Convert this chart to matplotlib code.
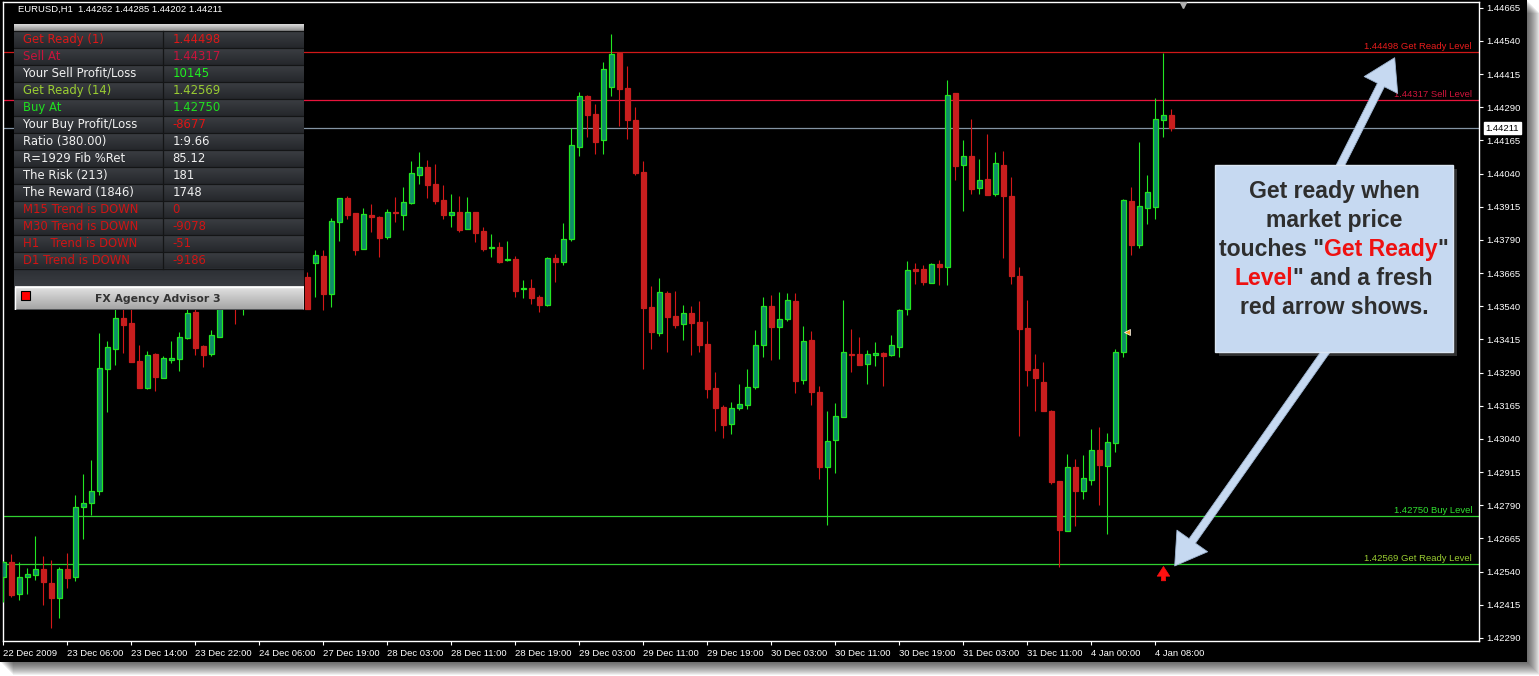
import numpy as np
import matplotlib
matplotlib.use('Agg')
import matplotlib.pyplot as plt
import matplotlib.transforms as mtransforms
from matplotlib.patches import Rectangle
from matplotlib.colors import LinearSegmentedColormap

plt.rcParams['font.family'] = ['Liberation Sans', 'DejaVu Sans']

W, H = 1539, 676

# EURUSD H1 bars
opens = [1.42520, 1.42576, 1.42456, 1.42520, 1.42527, 1.42550, 1.42497, 1.42441, 1.42550, 1.42520,
         1.42784, 1.42799, 1.42844, 1.43304, 1.43379, 1.43496, 1.43477, 1.43334, 1.43232, 1.43360,
         1.43270, 1.43338, 1.43342, 1.43421, 1.43519, 1.43391, 1.43360, 1.43425, 1.43583, 1.43639,
         1.43545, 1.43602, 1.43658, 1.43621, 1.43579, 1.43632, 1.43685, 1.43632, 1.43651, 1.43704,
         1.43730, 1.43587, 1.43858, 1.43949, 1.43892, 1.43756, 1.43884, 1.43877, 1.43802, 1.43896,
         1.43884, 1.43930, 1.44035, 1.44065, 1.44001, 1.43941, 1.43884, 1.43896, 1.43832, 1.43896,
         1.43824, 1.43760, 1.43764, 1.43715, 1.43719, 1.43606, 1.43609, 1.43575, 1.43545, 1.43722,
         1.43707, 1.43794, 1.44141, 1.44333, 1.44265, 1.44167, 1.44367, 1.44495, 1.44363, 1.44243,
         1.44047, 1.43538, 1.43440, 1.43590, 1.43504, 1.43474, 1.43515, 1.43481, 1.43398, 1.43232,
         1.43161, 1.43097, 1.43157, 1.43168, 1.43236, 1.43394, 1.43541, 1.43462, 1.43492, 1.43560,
         1.43262, 1.43413, 1.43217, 1.42934, 1.43036, 1.43123, 1.43360, 1.43360, 1.43323, 1.43357,
         1.43364, 1.43357, 1.43387, 1.43530, 1.43681, 1.43681, 1.43628, 1.43700, 1.43688, 1.44344,
         1.44073, 1.44107, 1.43986, 1.44020, 1.43964, 1.44073, 1.43956, 1.43654, 1.43459, 1.43304,
         1.43255, 1.43146, 1.42882, 1.42693, 1.42934, 1.42844, 1.42885, 1.42999, 1.42938, 1.43025,
         1.43368, 1.43937, 1.43771, 1.43911, 1.43916, 1.44243, 1.44262]
highs = [1.42580, 1.42606, 1.42576, 1.42554, 1.42674, 1.42599, 1.42584, 1.42557, 1.42610, 1.42829,
         1.42908, 1.42961, 1.43440, 1.43409, 1.43564, 1.43564, 1.43545, 1.43394, 1.43372, 1.43364,
         1.43353, 1.43409, 1.43443, 1.43564, 1.43545, 1.43394, 1.43451, 1.43621, 1.43677, 1.43670,
         1.43621, 1.43685, 1.43707, 1.43677, 1.43647, 1.43707, 1.43722, 1.43677, 1.43670, 1.43753,
         1.43753, 1.43873, 1.43949, 1.43956, 1.43892, 1.43911, 1.43926, 1.43881, 1.43907, 1.43952,
         1.43990, 1.44088, 1.44122, 1.44092, 1.44077, 1.43998, 1.43964, 1.43956, 1.43952, 1.43896,
         1.43839, 1.43813, 1.43783, 1.43786, 1.43730, 1.43639, 1.43643, 1.43583, 1.43726, 1.43737,
         1.43854, 1.44212, 1.44348, 1.44337, 1.44303, 1.44461, 1.44567, 1.44495, 1.44446, 1.44292,
         1.44088, 1.43617, 1.43647, 1.43598, 1.43598, 1.43545, 1.43541, 1.43560, 1.43485, 1.43293,
         1.43168, 1.43180, 1.43247, 1.43304, 1.43451, 1.43575, 1.43583, 1.43594, 1.43590, 1.43590,
         1.43466, 1.43447, 1.43240, 1.43146, 1.43176, 1.43564, 1.43455, 1.43425, 1.43376, 1.43406,
         1.43368, 1.43432, 1.43530, 1.43711, 1.43704, 1.43696, 1.43704, 1.43715, 1.44393, 1.44344,
         1.44167, 1.44246, 1.44096, 1.44190, 1.44122, 1.44126, 1.44028, 1.43688, 1.43564, 1.43360,
         1.43330, 1.43149, 1.42882, 1.42983, 1.42965, 1.42980, 1.43078, 1.43085, 1.43063, 1.43379,
         1.43945, 1.43990, 1.44160, 1.44035, 1.44326, 1.44495, 1.44285]
lows = [1.42426, 1.42444, 1.42433, 1.42456, 1.42508, 1.42414, 1.42327, 1.42365, 1.42478, 1.42505,
        1.42663, 1.42753, 1.42829, 1.43142, 1.43319, 1.43364, 1.43330, 1.43232, 1.43228, 1.43221,
        1.43270, 1.43327, 1.43296, 1.43417, 1.43357, 1.43311, 1.43353, 1.43425, 1.43564, 1.43474,
        1.43507, 1.43572, 1.43594, 1.43564, 1.43557, 1.43602, 1.43609, 1.43564, 1.43530, 1.43575,
        1.43526, 1.43538, 1.43786, 1.43869, 1.43734, 1.43756, 1.43820, 1.43726, 1.43794, 1.43858,
        1.43828, 1.43926, 1.44001, 1.43949, 1.43926, 1.43869, 1.43839, 1.43820, 1.43832, 1.43783,
        1.43749, 1.43726, 1.43704, 1.43711, 1.43575, 1.43572, 1.43549, 1.43519, 1.43541, 1.43632,
        1.43696, 1.43786, 1.44107, 1.44179, 1.44114, 1.44114, 1.44333, 1.44220, 1.44171, 1.44035,
        1.43304, 1.43379, 1.43428, 1.43368, 1.43458, 1.43413, 1.43357, 1.43368, 1.43195, 1.43070,
        1.43044, 1.43059, 1.43149, 1.43153, 1.43228, 1.43349, 1.43338, 1.43342, 1.43485, 1.43213,
        1.43247, 1.43168, 1.42889, 1.42716, 1.42912, 1.43123, 1.43293, 1.43319, 1.43247, 1.43315,
        1.43240, 1.43353, 1.43349, 1.43507, 1.43624, 1.43621, 1.43628, 1.43621, 1.43621, 1.44016,
        1.43900, 1.43964, 1.43964, 1.43960, 1.43956, 1.43722, 1.43624, 1.43051, 1.43240, 1.43146,
        1.43146, 1.42870, 1.42557, 1.42693, 1.42712, 1.42814, 1.42867, 1.42791, 1.42682, 1.42991,
        1.43349, 1.43734, 1.43760, 1.43851, 1.43869, 1.44179, 1.44202]
closes = [1.42576, 1.42452, 1.42520, 1.42531, 1.42550, 1.42501, 1.42441, 1.42550, 1.42516, 1.42784,
          1.42799, 1.42844, 1.43308, 1.43387, 1.43496, 1.43470, 1.43330, 1.43232, 1.43357, 1.43274,
          1.43345, 1.43345, 1.43425, 1.43515, 1.43383, 1.43357, 1.43432, 1.43583, 1.43647, 1.43545,
          1.43602, 1.43658, 1.43621, 1.43579, 1.43632, 1.43685, 1.43632, 1.43654, 1.43530, 1.43734,
          1.43587, 1.43862, 1.43949, 1.43884, 1.43753, 1.43888, 1.43877, 1.43798, 1.43896, 1.43892,
          1.43934, 1.44043, 1.44065, 1.43998, 1.43937, 1.43884, 1.43896, 1.43828, 1.43896, 1.43817,
          1.43756, 1.43764, 1.43707, 1.43719, 1.43598, 1.43609, 1.43572, 1.43545, 1.43722, 1.43707,
          1.43794, 1.44148, 1.44333, 1.44261, 1.44160, 1.44435, 1.44491, 1.44360, 1.44243, 1.44043,
          1.43534, 1.43443, 1.43594, 1.43500, 1.43470, 1.43515, 1.43477, 1.43394, 1.43228, 1.43157,
          1.43093, 1.43157, 1.43172, 1.43236, 1.43394, 1.43541, 1.43462, 1.43492, 1.43564, 1.43259,
          1.43409, 1.43217, 1.42934, 1.43032, 1.43127, 1.43368, 1.43357, 1.43319, 1.43360, 1.43364,
          1.43353, 1.43394, 1.43526, 1.43677, 1.43673, 1.43632, 1.43700, 1.43688, 1.44337, 1.44069,
          1.44107, 1.43983, 1.44016, 1.43960, 1.44081, 1.43956, 1.43654, 1.43455, 1.43300, 1.43270,
          1.43146, 1.42878, 1.42697, 1.42934, 1.42844, 1.42893, 1.42999, 1.42942, 1.43029, 1.43368,
          1.43941, 1.43771, 1.43918, 1.43971, 1.44245, 1.44261, 1.44211]

time_labels = ['22 Dec 2009', '23 Dec 06:00', '23 Dec 14:00', '23 Dec 22:00', '24 Dec 06:00',
               '27 Dec 19:00', '28 Dec 03:00', '28 Dec 11:00', '28 Dec 19:00', '29 Dec 03:00',
               '29 Dec 11:00', '29 Dec 19:00', '30 Dec 03:00', '30 Dec 11:00', '30 Dec 19:00',
               '31 Dec 03:00', '31 Dec 11:00', '4 Jan 00:00', '4 Jan 08:00']
price_ticks = [1.42290, 1.42415, 1.42540, 1.42665, 1.42790, 1.42915, 1.43040, 1.43165, 1.43290,
               1.43415, 1.43540, 1.43665, 1.43790, 1.43915, 1.44040, 1.44165, 1.44290, 1.44415,
               1.44540, 1.44665]

levels = [1.44498, 1.44317, 1.42750, 1.42569]
level_text = ['1.44498 Get Ready Level', '1.44317 Sell Level', '1.42750 Buy Level',
              '1.42569 Get Ready Level']
level_line_col = ['#d01818', '#e8143c', '#30d030', '#30d030']
level_text_col = ['#e81c1c', '#d0143c', '#30e030', '#9acd32']
bid = 1.44211

panel_left = ['Get Ready (1)', 'Sell At', 'Your Sell Profit/Loss', 'Get Ready (14)', 'Buy At',
              'Your Buy Profit/Loss', 'Ratio (380.00)', 'R=1929 Fib %Ret', 'The Risk (213)',
              'The Reward (1846)', 'M15 Trend is DOWN', 'M30 Trend is DOWN', 'H1   Trend is DOWN',
              'D1 Trend is DOWN']
panel_right = ['1.44498', '1.44317', '10145', '1.42569', '1.42750', '-8677', '1:9.66', '85.12',
               '181', '1748', '0', '-9078', '-51', '-9186']
panel_lcol = ['#dc1818', '#c8143c', '#f0f0f0', '#9acd32', '#20e020', '#f0f0f0', '#f0f0f0',
              '#f0f0f0', '#f0f0f0', '#f0f0f0', '#d01414', '#d01414', '#d01414', '#d01414']
panel_rcol = ['#dc1818', '#c8143c', '#20f020', '#9acd32', '#20e020', '#e01414', '#f0f0f0',
              '#f0f0f0', '#f0f0f0', '#f0f0f0', '#d01414', '#d01414', '#d01414', '#d01414']

BULL_FILL = '#0e8c6a'
BULL_EDGE = '#22e622'
BEAR = '#c81e1e'


def fig_rect(x, y, w, h):
    return [x / W, 1 - (y + h) / H, w / W, h / H]


fig = plt.figure(figsize=(W / 100, H / 100), dpi=100, facecolor='white')

# window with drop shadow
for d in range(1, 14):
    fig.add_artist(Rectangle((d / W, 1 - (662 + d) / H), 1527 / W, 662 / H,
                             transform=fig.transFigure, fc='black', ec='none', alpha=0.06))
fig.add_artist(Rectangle((0, 1 - 662 / H), 1527 / W, 662 / H,
                         transform=fig.transFigure, fc='black', ec='none'))

ax = fig.add_axes(fig_rect(2.7, 2, 1476.3, 639), zorder=2)
ax.set_facecolor('black')
for s in ax.spines.values():
    s.set_color('white')
    s.set_linewidth(1)

o = np.array(opens)
hi = np.array(highs)
lo = np.array(lows)
c = np.array(closes)
idx = np.arange(len(o))
up = c >= o
body_lo = np.minimum(o, c)
body_h = np.maximum(np.abs(c - o), 0.00004)

ax.vlines(idx[up], lo[up], hi[up], color=BULL_EDGE, lw=0.8, zorder=3)
ax.vlines(idx[~up], lo[~up], hi[~up], color='#d41818', lw=0.8, zorder=3)
ax.bar(idx[up], body_h[up], bottom=body_lo[up], width=0.55, color=BULL_FILL,
       edgecolor=BULL_EDGE, linewidth=0.9, zorder=4)
ax.bar(idx[~up], body_h[~up], bottom=body_lo[~up], width=0.55, color=BEAR,
       edgecolor=BEAR, linewidth=0.9, zorder=4)

ax.set_xlim(-0.1, 184.44)
ax.set_ylim(1.42278, 1.44687)

# level lines
trans = mtransforms.blended_transform_factory(ax.transAxes, ax.transData)
for lv, txt, lc, tc in zip(levels, level_text, level_line_col, level_text_col):
    ax.axhline(lv, color=lc, lw=0.9, zorder=2)
    ax.text(0.9953, lv + 0.00004, txt, transform=trans, ha='right', va='bottom',
            color=tc, fontsize=6.8, zorder=5)
ax.axhline(bid, color='#8494a4', lw=0.9, zorder=2)
ax.text(1.0045, bid, '%.5f' % bid, transform=trans, ha='left', va='center', color='black',
        fontsize=6.8, zorder=6, clip_on=False,
        bbox=dict(boxstyle='square,pad=0.15', fc='white', ec='white'))

# axes ticks
ax.yaxis.tick_right()
ax.set_yticks(price_ticks)
ax.set_yticklabels(['%.5f' % p for p in price_ticks])
ax.tick_params(axis='y', colors='white', labelsize=6.8, length=3, width=0.8, pad=2)
ax.set_xticks(np.arange(len(time_labels)) * 8)
ax.set_xticklabels(time_labels, ha='left')
ax.tick_params(axis='x', colors='white', labelsize=6.8, length=3, width=0.8, pad=3)

# small chart markers
ax.plot([140.4], [1.43443], marker='<', color='#f0a020', mec='white', mew=0.5, ms=5, zorder=6)
ax.plot([147.4], [1.44675], marker='v', color='#b0b0b0', ms=4, zorder=6)
ax.annotate('', xy=(145, 1.42559), xytext=(145, 1.42505),
            arrowprops=dict(arrowstyle='simple,head_length=0.7,head_width=0.9,tail_width=0.3',
                            fc='#ff1010', ec='#ff1010', lw=0.5, mutation_scale=10,
                            shrinkA=0, shrinkB=0), zorder=6)

# callout box
box_l, box_r, box_b, box_t = 151.44, 181.19, 1.43368, 1.44073
ax.add_patch(Rectangle((box_l + 0.5, box_b - 0.00016), box_r - box_l, box_t - box_b,
                       fc='#606060', ec='none', alpha=0.5, zorder=7))
ax.annotate('', xy=(173.9, 1.44477), xytext=(166.6, 1.44040),
            arrowprops=dict(arrowstyle='simple,head_length=1.1,head_width=1.35,tail_width=0.28',
                            fc='#c6d9f1', ec='#9fb6d2', lw=0.6, mutation_scale=20,
                            shrinkA=0, shrinkB=0), zorder=7)
ax.annotate('', xy=(146.4, 1.42561), xytext=(166.0, 1.43400),
            arrowprops=dict(arrowstyle='simple,head_length=1.1,head_width=1.35,tail_width=0.28',
                            fc='#c6d9f1', ec='#9fb6d2', lw=0.6, mutation_scale=20,
                            shrinkA=0, shrinkB=0), zorder=7)
ax.add_patch(Rectangle((box_l, box_b), box_r - box_l, box_t - box_b,
                       fc='#c6d9f1', ec='#dbe6f3', lw=1, zorder=8))

ann_lines = [[('Get ready when', '#2e2e2e')],
             [('market price', '#2e2e2e')],
             [('touches "', '#2e2e2e'), ('Get Ready', '#ee1111'), ('"', '#2e2e2e')],
             [('Level', '#ee1111'), ('" and a fresh', '#2e2e2e')],
             [('red arrow shows.', '#2e2e2e')]]
ann_y = [1.43971, 1.43862, 1.43753, 1.43643, 1.43534]
box_cx = 166.3

fig.canvas.draw()
rend = fig.canvas.get_renderer()
for yv, parts in zip(ann_y, ann_lines):
    objs = [ax.text(0, yv, s, color=col, fontsize=16.6, fontweight='bold', ha='left',
                    va='center', zorder=9) for s, col in parts]
    widths = [t.get_window_extent(rend).width for t in objs]
    cx = ax.transData.transform((box_cx, yv))[0]
    xd = cx - sum(widths) / 2
    for t, w in zip(objs, widths):
        t.set_position((ax.transData.inverted().transform((xd, 0))[0], yv))
        xd += w

# header line
fig.text(18 / W, 1 - 9 / H, 'EURUSD,H1  1.44262 1.44285 1.44202 1.44211', color='white',
         fontsize=6.8, va='center', ha='left', zorder=10)

# advisor panel
pa = fig.add_axes(fig_rect(14, 24, 290, 286), zorder=5)
pa.set_xlim(0, 290)
pa.set_ylim(286, 0)
pa.axis('off')
pa.add_patch(Rectangle((0, 0), 290, 286, fc='#2a2c30', ec='none'))
grad = np.linspace(0, 1, 32).reshape(-1, 1)
pa.imshow(grad, extent=[0, 290, 6.7, 0],
          cmap=LinearSegmentedColormap.from_list('hdr', ['#dcdcdc', '#8a8a8a']),
          aspect='auto', zorder=1)
row_cmap = LinearSegmentedColormap.from_list('row', ['#3b3e43', '#25272b'])
for i in range(len(panel_left)):
    y0 = 6.7 + 17 * i
    pa.imshow(grad, extent=[0, 290, y0 + 17, y0], cmap=row_cmap, aspect='auto', zorder=1)
    pa.plot([0, 290], [y0, y0], color='#141516', lw=0.9, zorder=2)
    pa.text(9.3, y0 + 8.7, panel_left[i], color=panel_lcol[i], fontsize=8.4, va='center',
            family='DejaVu Sans', zorder=3)
    pa.text(158.7, y0 + 8.7, panel_right[i], color=panel_rcol[i], fontsize=8.4, va='center',
            family='DejaVu Sans', zorder=3)
pa.plot([149, 149], [6.7, 244.7], color='#141516', lw=0.9, zorder=2)
pa.plot([0, 290], [244.7, 244.7], color='#141516', lw=0.9, zorder=2)
pa.imshow(grad, extent=[0, 290, 263, 244.7],
          cmap=LinearSegmentedColormap.from_list('gap', ['#2c2f34', '#3a3d42']),
          aspect='auto', zorder=1)
pa.imshow(grad, extent=[0.5, 289.5, 285.5, 263],
          cmap=LinearSegmentedColormap.from_list('btn', ['#e4e4e4', '#a6a6a6']),
          aspect='auto', zorder=1)
pa.add_patch(Rectangle((0.5, 263), 289, 22.5, fc='none', ec='white', lw=1, zorder=2))
pa.add_patch(Rectangle((6.7, 267), 9.3, 9.3, fc='#ff0000', ec='black', lw=0.8, zorder=3))
pa.text(144.3, 274.5, 'FX Agency Advisor 3', color='#333333', fontsize=7.8, fontweight='bold',
        family='DejaVu Sans', ha='center', va='center', zorder=3)

fig.savefig('out.png', dpi=100, facecolor='white')
